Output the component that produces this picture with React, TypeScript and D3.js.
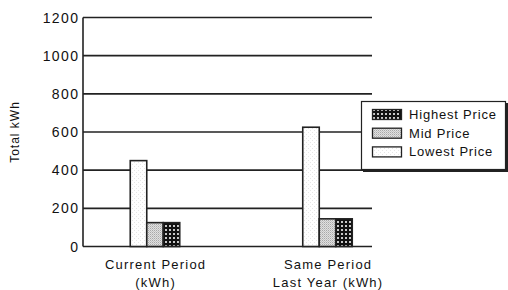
import React from "react";
import * as d3 from "d3";

const categories = ["Current Period (kWh)", "Same Period Last Year (kWh)"];
const categoryLines = [["Current Period", "(kWh)"], ["Same Period", "Last Year (kWh)"]];
const seriesNames = ["Lowest Price", "Mid Price", "Highest Price"];
const lowestValues = [450, 625];
const midValues = [125, 145];
const highestValues = [125, 145];
const yTicks = [0, 200, 400, 600, 800, 1000, 1200];
const legendOrder = ["Highest Price", "Mid Price", "Lowest Price"];

const W = 508;
const H = 290;
const left = 83;
const right = 372;
const top = 17.5;
const bottom = 246.5;

const fills: Record<string, string> = {
  "Lowest Price": "url(#patLow)",
  "Mid Price": "url(#patMid)",
  "Highest Price": "url(#patHigh)",
};

export default function App() {
  const y = d3.scaleLinear().domain([0, 1200]).range([bottom, top]);
  const x = d3.scaleBand<string>().domain(categories).range([68.75, 413.75]).paddingInner(0);
  const inner = d3.scaleBand<string>().domain(seriesNames).range([-24.75, 24.75]);
  const seriesValues: Record<string, number[]> = {
    "Lowest Price": lowestValues,
    "Mid Price": midValues,
    "Highest Price": highestValues,
  };
  const font = "Liberation Sans, Arial, sans-serif";
  const ink = "#222";

  return (
    <svg width={W} height={H} style={{ position: "absolute", left: 0, top: 0, background: "#fff" }}>
      <defs>
        <pattern id="patLow" width="4" height="4" patternUnits="userSpaceOnUse">
          <rect width="4" height="4" fill="#fff" />
          <rect x="0" y="0" width="1" height="1" fill="#e6e6e6" />
          <rect x="2" y="2" width="1" height="1" fill="#e6e6e6" />
        </pattern>
        <pattern id="patMid" width="2" height="2" patternUnits="userSpaceOnUse">
          <rect width="2" height="2" fill="#e0e0e0" />
          <rect x="0" y="0" width="1" height="1" fill="#a8a8a8" />
          <rect x="1" y="1" width="1" height="1" fill="#c4c4c4" />
        </pattern>
        <pattern id="patHigh" width="4" height="4" patternUnits="userSpaceOnUse">
          <rect width="4" height="4" fill="#111" />
          <rect x="1" y="1" width="2" height="2" fill="#c8c8c8" />
        </pattern>
      </defs>

      {/* gridlines */}
      {yTicks.map((t) => (
        <line key={"g" + t} x1={left} x2={right} y1={y(t)} y2={y(t)} stroke={ink} strokeWidth={1.6} />
      ))}
      <line x1={left} x2={left} y1={top} y2={bottom} stroke={ink} strokeWidth={1.6} />

      {/* tick labels */}
      {yTicks.map((t) => (
        <text
          key={"t" + t}
          x={79.4}
          y={y(t)}
          dy="0.36em"
          textAnchor="end"
          fontFamily={font}
          fontSize={14}
          letterSpacing={1.4}
          fill="#111"
        >
          {t}
        </text>
      ))}

      <text
        transform={`translate(19,${(top + bottom) / 2}) rotate(-90)`}
        textAnchor="middle"
        fontFamily={font}
        fontSize={12}
        letterSpacing={1}
        fill="#111"
      >
        Total kWh
      </text>

      {/* bars */}
      {categories.map((c, ci) =>
        seriesNames.map((s) => {
          const v = seriesValues[s][ci];
          const bx = (x(c) as number) + x.bandwidth() / 2 + (inner(s) as number);
          return (
            <rect
              key={c + s}
              x={bx}
              y={y(v)}
              width={inner.bandwidth()}
              height={bottom - y(v)}
              fill={fills[s]}
              stroke={ink}
              strokeWidth={1.6}
            />
          );
        })
      )}

      {/* category labels */}
      {categories.map((c, ci) => {
        const cx = (x(c) as number) + x.bandwidth() / 2;
        return (
          <text key={"c" + c} textAnchor="middle" fontFamily={font} fontSize={13} letterSpacing={1.2} fill="#111">
            <tspan x={cx + 0.6} y={268.5}>{categoryLines[ci][0]}</tspan>
            <tspan x={cx + 0.6} y={287}>{categoryLines[ci][1]}</tspan>
          </text>
        );
      })}

      {/* legend */}
      <rect x={363} y={103} width={145} height={69} fill="#222" />
      <rect x={361.5} y={101.5} width={144} height={68} fill="#fff" stroke={ink} strokeWidth={1.2} />
      {legendOrder.map((s, i) => (
        <g key={"l" + s}>
          <rect x={372.5} y={109.5 + i * 18.7} width={29} height={10} fill={fills[s]} stroke={ink} strokeWidth={1.3} />
          <text x={409} y={119 + i * 18.7} fontFamily={font} fontSize={13} letterSpacing={0.8} fill="#111">
            {s}
          </text>
        </g>
      ))}
    </svg>
  );
}
